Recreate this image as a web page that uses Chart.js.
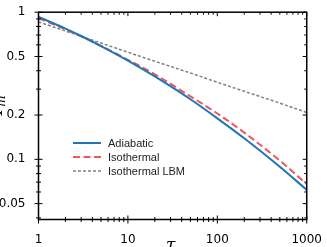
<!DOCTYPE html>
<html>
<head>
<meta charset="utf-8">
<script src="https://cdn.jsdelivr.net/npm/chart.js@4"></script>
<style>
  html, body { margin: 0; padding: 0; background: #fff; }
</style>
</head>
<body>
<canvas id="chart" width="327" height="247"></canvas>
<script>
// values
const tau = [1, 2, 3, 5, 10, 20, 50, 100, 200, 500, 1000];
const adiabatic = [0.93, 0.774, 0.689, 0.589, 0.469, 0.366, 0.256, 0.19, 0.139, 0.089, 0.062];
const isothermal = [0.91, 0.765, 0.685, 0.59, 0.475, 0.378, 0.268, 0.205, 0.152, 0.098, 0.068];
const isothermalLBM = [0.86, 0.745, 0.686, 0.617, 0.535, 0.464, 0.386, 0.334, 0.29, 0.241, 0.208];

const xTickLabels = [1, 10, 100, 1000];
const yTickLabels = [1, 0.5, 0.2, 0.1, 0.05];

const pick = (list, v) => list.find(l => Math.abs(l - v) / l < 1e-6);

// 1..9 x 10^n tick positions inside [min, max]
const logTicks = (min, max) => {
    const out = [];
    for (let e = Math.floor(Math.log10(min)); e <= Math.ceil(Math.log10(max)); e++) {
        for (let k = 1; k <= 9; k++) {
            const v = parseFloat((k * Math.pow(10, e)).toPrecision(6));
            if (v >= min * 0.9999 && v <= max * 1.0001) out.push(v);
        }
    }
    return out;
};

// box, straddling/inward ticks, legend and axis titles
const decorations = {
    id: "decorations",
    afterDraw(chart) {
        const { ctx, chartArea: a, scales: { x, y } } = chart;
        ctx.save();
        ctx.strokeStyle = "#000";
        ctx.lineWidth = 1.5;
        ctx.strokeRect(a.left, a.top, a.right - a.left, a.bottom - a.top);

        ctx.lineWidth = 1;
        const seg = (x1, y1, x2, y2) => {
            ctx.beginPath();
            ctx.moveTo(x1, y1);
            ctx.lineTo(x2, y2);
            ctx.stroke();
        };
        x.ticks.forEach(t => {
            const px = x.getPixelForValue(t.value);
            const len = t.label ? 4 : 2.5;
            seg(px, a.bottom - len, px, a.bottom + len);
            seg(px, a.top, px, a.top + len);
        });
        y.ticks.forEach(t => {
            const py = y.getPixelForValue(t.value);
            const len = t.label ? 4 : 2.5;
            seg(a.left - len, py, a.left + len, py);
            seg(a.right - len, py, a.right, py);
        });

        // legend
        ctx.font = "11px 'Liberation Sans', Arial, sans-serif";
        ctx.textBaseline = "middle";
        ctx.fillStyle = "#222";
        chart.data.datasets.forEach((ds, i) => {
            const ly = 143 + 14 * i;
            ctx.strokeStyle = ds.borderColor;
            ctx.lineWidth = ds.borderWidth;
            ctx.setLineDash(ds.borderDash || []);
            seg(73, ly, 101, ly);
            ctx.setLineDash([]);
            ctx.fillText(ds.label, 108, ly + 0.5);
        });

        // axis titles, partly outside the canvas as in the reference
        ctx.fillStyle = "#000";
        ctx.textBaseline = "alphabetic";
        ctx.textAlign = "center";
        ctx.font = "italic 17px 'DejaVu Serif', serif";
        ctx.fillText("\u03c4", (a.left + a.right) / 2 - 2, 250);

        ctx.translate(0, (a.top + a.bottom) / 2);
        ctx.rotate(-Math.PI / 2);
        ctx.textAlign = "left";
        ctx.fillText("T", -2, 1.5);
        ctx.font = "italic 12px 'DejaVu Serif', serif";
        ctx.fillText("m", 9, 4.5);
        ctx.restore();
    }
};

const tickFont = { family: "'DejaVu Sans', sans-serif", size: 12 };

new Chart(document.getElementById("chart").getContext("2d"), {
    type: "line",
    data: {
        labels: tau,
        datasets: [
            {
                label: "Adiabatic",
                data: tau.map((t, i) => ({ x: t, y: adiabatic[i] })),
                borderColor: "#1f75b8",
                borderWidth: 2,
            },
            {
                label: "Isothermal",
                data: tau.map((t, i) => ({ x: t, y: isothermal[i] })),
                borderColor: "#f2555a",
                borderWidth: 2,
                borderDash: [7, 3.5],
            },
            {
                label: "Isothermal LBM",
                data: tau.map((t, i) => ({ x: t, y: isothermalLBM[i] })),
                borderColor: "#808080",
                borderWidth: 1.5,
                borderDash: [3, 2],
            },
        ],
    },
    options: {
        responsive: false,
        animation: false,
        devicePixelRatio: 1,
        layout: { padding: { left: 0, top: 7, right: 19.3, bottom: 0 } },
        elements: {
            point: { radius: 0 },
            line: { cubicInterpolationMode: "monotone", fill: false },
        },
        plugins: {
            legend: { display: false },
            tooltip: { enabled: false },
        },
        scales: {
            x: {
                type: "logarithmic",
                min: 1,
                max: 1000,
                grid: { display: false },
                border: { display: false },
                afterBuildTicks: s => { s.ticks = logTicks(s.min, s.max).map(v => ({ value: v })); },
                ticks: {
                    autoSkip: false,
                    maxRotation: 0,
                    padding: 5,
                    color: "#000",
                    font: tickFont,
                    callback: v => {
                        const l = pick(xTickLabels, v);
                        return l === undefined ? "" : String(l);
                    },
                },
                afterFit: s => { s.height = 27.5; },
            },
            y: {
                type: "logarithmic",
                min: 0.039,
                max: 1,
                grid: { display: false },
                border: { display: false },
                afterBuildTicks: s => { s.ticks = logTicks(s.min, s.max).map(v => ({ value: v })); },
                ticks: {
                    autoSkip: false,
                    padding: 5,
                    color: "#000",
                    font: tickFont,
                    callback: v => {
                        const l = pick(yTickLabels, v);
                        return l === undefined ? "" : String(l);
                    },
                },
                afterFit: s => { s.width = 38.5; },
            },
        },
    },
    plugins: [decorations],
});
</script>
</body>
</html>
